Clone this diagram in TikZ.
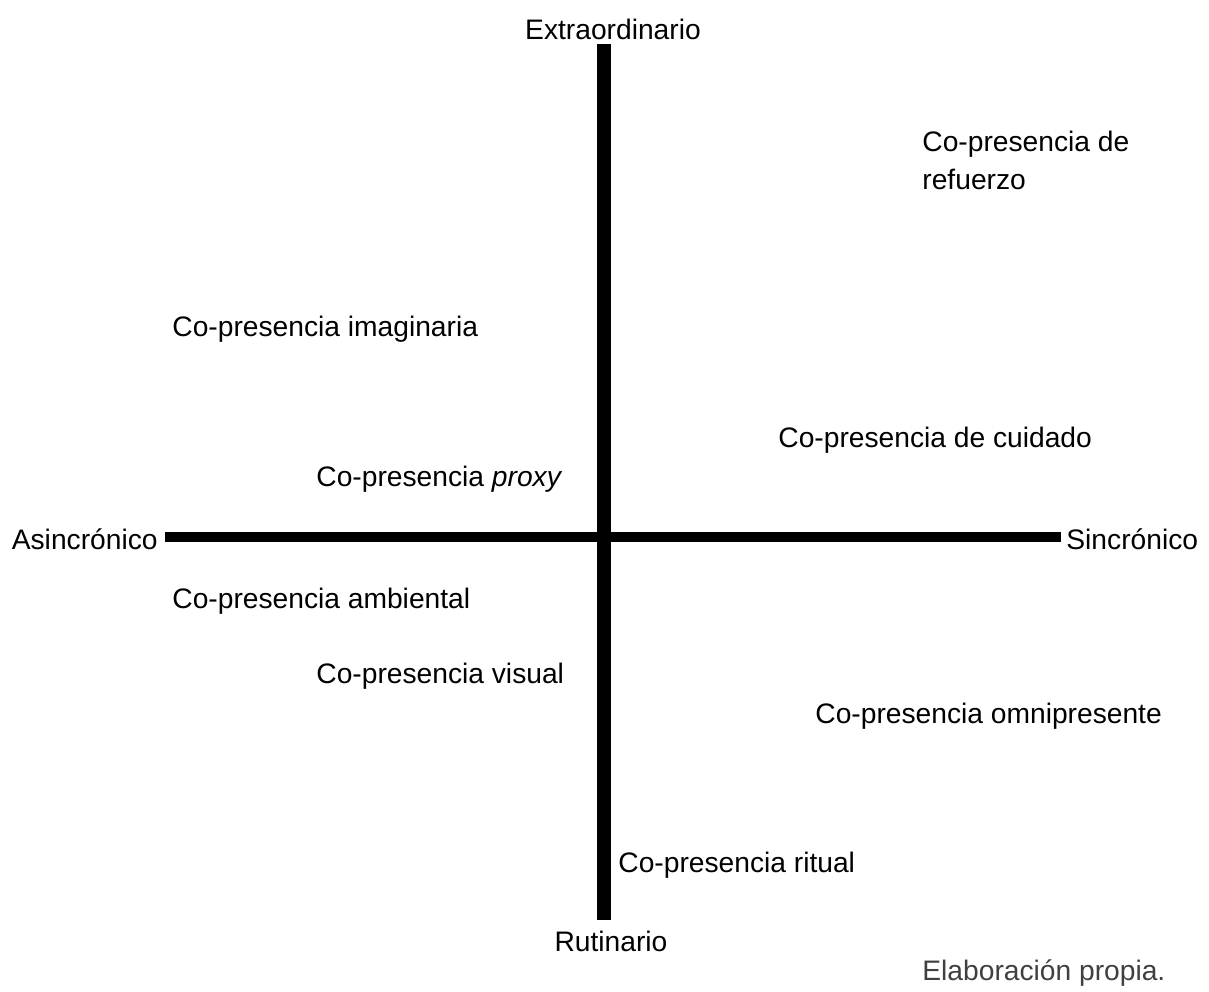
\documentclass[tikz,border=0pt]{standalone}
\usepackage{fontspec}
\setmainfont{Liberation Sans}
\usetikzlibrary{positioning}
\tikzstyle{lbl}  = [inner sep=0pt, font=\fontsize{14.1}{16}\selectfont]
\tikzstyle{axis} = [line cap=butt, black]

\begin{document}
\begin{tikzpicture}[x=0.5pt,y=-0.5pt]
		\useasboundingbox (0,0) rectangle (1209,991);

		% ejes
		\coordinate (top) at (604,44);
		\coordinate (bot) at (604,920);
		\coordinate (lft) at (165,537);
		\coordinate (rgt) at (1061,537);
		\draw[axis, line width=7pt] (top) -- (bot);
		\draw[axis, line width=5pt] (lft) -- (rgt);

		% extremos
		\node[lbl] (extra) at (613,29) {Extraordinario};
		\node[lbl] (rutin) at (611,941) {Rutinario};
		\node[lbl, anchor=east] (asinc) at (158,539) {Asincrónico};
		\node[lbl, anchor=west] (sinc) at (1066,539) {Sincrónico};

		% tipos de co-presencia
		\node[lbl, anchor=west, align=left] (refuerzo) at (922,160) {Co-presencia de\\[3pt]refuerzo};
		\node[lbl, anchor=west] (imaginaria) at (172,329) {Co-presencia imaginaria};
		\node[lbl, anchor=west] (cuidado) at (778,440) {Co-presencia de cuidado};
		\node[lbl, anchor=west] (proxy) at (316,479) {Co-presencia \textit{proxy}};
		\node[lbl, anchor=west] (ambiental) at (172,601) {Co-presencia ambiental};
		\node[lbl, anchor=west] (visual) at (316,676) {Co-presencia visual};
		\node[lbl, anchor=west] (omni) at (815,716) {Co-presencia omnipresente};
		\node[lbl, anchor=west] (ritual) at (618,865) {Co-presencia ritual};

		\node[lbl, anchor=west, text=black!75] (fuente) at (922,973) {Elaboración propia.};
	\end{tikzpicture}
\end{document}
